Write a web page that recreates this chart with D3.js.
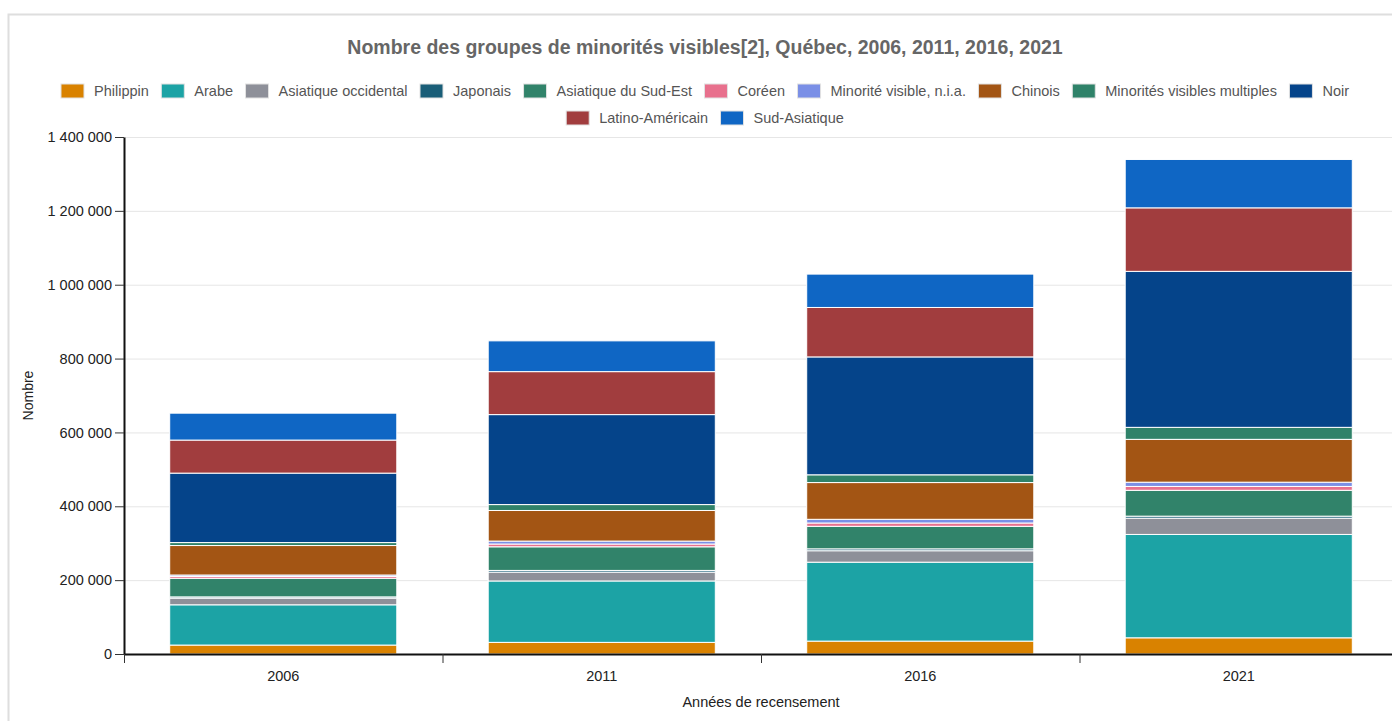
<!DOCTYPE html>
<html>
<head>
<meta charset="utf-8">
<script src="https://cdn.jsdelivr.net/npm/d3@7"></script>
<style>
    body { margin: 0; background: #fff; }
    svg { display: block; font-family: "Liberation Sans", Arial, sans-serif; }
</style>
</head>
<body>
<div id="chart"></div>
<script>
// census years and groups (stack order, bottom to top)
var years = ["2006", "2011", "2016", "2021"];
var groups = ["Philippin", "Arabe", "Asiatique occidental", "Japonais", "Asiatique du Sud-Est",
    "Coréen", "Minorité visible, n.i.a.", "Chinois", "Minorités visibles multiples", "Noir",
    "Latino-Américain", "Sud-Asiatique"];
var colors = ["#d98200", "#1ca3a5", "#8e9099", "#1a5e78", "#31836a", "#e8708d",
    "#7a8fe6", "#a35514", "#2f8269", "#05448a", "#a13d3e", "#0f66c4"];

// values, one array per group (2006, 2011, 2016, 2021)
var philippin = [24200, 31495, 34910, 43870];
var arabe = [109020, 166260, 213740, 279905];
var asiatiqueOcc = [18000, 24000, 31000, 44000];
var japonais = [3430, 4575, 5090, 5490];
var sudEst = [50455, 63970, 61000, 70000];
var coreen = [4800, 7500, 9000, 10500];
var nia = [4000, 8000, 10000, 11500];
var chinois = [79830, 82845, 99505, 116000];
var multiples = [8000, 16000, 21000, 32500];
var noir = [188070, 243625, 319230, 422405];
var latino = [89505, 116380, 133920, 172000];
var sudAsiatique = [72845, 83320, 90335, 131000];

var yTicks = [0, 200000, 400000, 600000, 800000, 1000000, 1200000, 1400000];

var title = "Nombre des groupes de minorités visibles[2], Québec, 2006, 2011, 2016, 2021";
var xTitle = "Années de recensement";
var yTitle = "Nombre";

var chart = {
    width: 1392,
    height: 721,
    left: 124,
    right: 1398,
    top: 137,
    bottom: 654,
    center: 705
};

var fr = d3.formatLocale({ decimal: ",", thousands: " ", grouping: [3], currency: ["", " $"] });
var fmt = fr.format(",d");

var series = [philippin, arabe, asiatiqueOcc, japonais, sudEst, coreen, nia, chinois,
    multiples, noir, latino, sudAsiatique];

// table for d3.stack
var rows = years.map(function (yr, i) {
    var r = { year: yr };
    groups.forEach(function (g, k) { r[g] = series[k][i]; });
    return r;
});

var stacked = d3.stack().keys(groups)(rows);

var svg = d3.select("#chart")
    .append("svg")
    .attr("width", chart.width)
    .attr("height", chart.height);

// container frame
svg.append("rect")
    .attr("x", 8.5).attr("y", 14.5)
    .attr("width", 1420).attr("height", 800)
    .attr("fill", "none")
    .attr("stroke", "#dedede")
    .attr("stroke-width", 2);

var x = d3.scaleBand().domain(years).range([chart.left, chart.right]);
var xBar = d3.scaleBand().domain(years).range([chart.left, chart.right])
    .paddingInner(0.287).paddingOuter(0.1435);
var y = d3.scaleLinear().domain([0, 1400000]).range([chart.bottom, chart.top]);
var color = d3.scaleOrdinal().domain(groups).range(colors);

// grid
svg.append("g").selectAll("line")
    .data(yTicks.slice(1))
    .enter()
    .append("line")
    .attr("x1", chart.left).attr("x2", chart.width)
    .attr("y1", function (d) { return y(d) + 0.5; })
    .attr("y2", function (d) { return y(d) + 0.5; })
    .attr("stroke", "#e6e6e6");

// stacked bars
svg.append("g").selectAll("g")
    .data(stacked)
    .enter()
    .append("g")
    .attr("fill", function (d) { return color(d.key); })
    .selectAll("rect")
    .data(function (d) { return d; })
    .enter()
    .append("rect")
    .attr("x", function (d) { return xBar(d.data.year); })
    .attr("y", function (d) { return y(d[1]); })
    .attr("height", function (d) { return y(d[0]) - y(d[1]); })
    .attr("width", xBar.bandwidth())
    .attr("stroke", "#fff")
    .attr("stroke-width", 1);

// y axis
var yAxis = svg.append("g")
    .attr("transform", "translate(" + chart.left + ",0)")
    .call(d3.axisLeft(y).tickValues(yTicks).tickFormat(fmt).tickSizeInner(9).tickSizeOuter(0).tickPadding(3));
yAxis.select(".domain").attr("stroke", "#111").attr("stroke-width", 2);
yAxis.selectAll(".tick line").attr("stroke", "#333");
yAxis.selectAll("text").attr("font-size", "14.5px").attr("fill", "#222")
    .attr("font-family", "Liberation Sans, Arial, sans-serif");

// x axis: labels in the middle, ticks between the years
var xAxis = svg.append("g")
    .attr("transform", "translate(0," + chart.bottom + ")")
    .call(d3.axisBottom(x).tickSize(0).tickPadding(17));
xAxis.select(".domain").attr("stroke", "#111").attr("stroke-width", 2);
xAxis.selectAll("text").attr("font-size", "14.5px").attr("fill", "#222")
    .attr("font-family", "Liberation Sans, Arial, sans-serif");
xAxis.selectAll(".sep")
    .data(years)
    .enter()
    .append("line")
    .attr("class", "sep")
    .attr("x1", function (d) { return x(d) + 0.5; })
    .attr("x2", function (d) { return x(d) + 0.5; })
    .attr("y1", 0).attr("y2", 9)
    .attr("stroke", "#333");

// titles
svg.append("text")
    .attr("x", chart.center).attr("y", 54)
    .attr("text-anchor", "middle")
    .attr("font-size", "19.5px")
    .attr("font-weight", "bold")
    .attr("fill", "#666")
    .text(title);

svg.append("text")
    .attr("x", (chart.left + chart.right) / 2).attr("y", 707)
    .attr("text-anchor", "middle")
    .attr("font-size", "14.5px")
    .attr("fill", "#222")
    .text(xTitle);

svg.append("text")
    .attr("transform", "translate(33," + ((chart.top + chart.bottom) / 2) + ") rotate(-90)")
    .attr("text-anchor", "middle")
    .attr("font-size", "14px")
    .attr("fill", "#222")
    .text(yTitle);

// legend, wrapped and centered rows
var legend = svg.append("g");
var items = legend.selectAll("g")
    .data(groups)
    .enter()
    .append("g");
items.append("rect")
    .attr("width", 23).attr("height", 14)
    .attr("y", -7)
    .attr("fill", function (d) { return color(d); })
    .attr("stroke", "#e2e2e2");
items.append("text")
    .attr("x", 33).attr("y", 5)
    .attr("font-size", "14.5px")
    .attr("fill", "#555")
    .text(function (d) { return d; });

var maxRow = 1340, gap = 12.5, rowsL = [[]], curW = 0;
items.each(function (d) {
    var w = 33 + d3.select(this).select("text").node().getComputedTextLength();
    var row = rowsL[rowsL.length - 1];
    if (row.length && curW + gap + w > maxRow) {
        rowsL.push([]);
        row = rowsL[rowsL.length - 1];
        curW = 0;
    }
    curW += (row.length ? gap : 0) + w;
    row.push({ node: this, w: w });
});
rowsL.forEach(function (row, r) {
    var total = d3.sum(row, function (o) { return o.w; }) + gap * (row.length - 1);
    var cx = chart.center - total / 2;
    row.forEach(function (o) {
        d3.select(o.node).attr("transform", "translate(" + cx + "," + (91 + r * 27) + ")");
        cx += o.w + gap;
    });
});
</script>
</body>
</html>
